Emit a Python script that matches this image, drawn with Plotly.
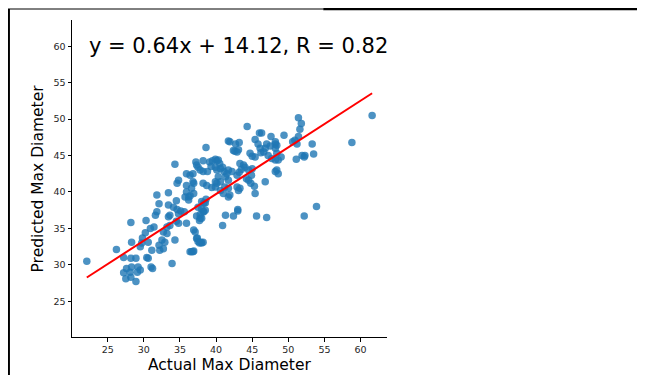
import plotly.graph_objects as go

actual = [
    22.1, 26.2, 27.2, 27.2, 27.6, 28.1, 27.5, 28.2, 28.3, 28.9, 29.2, 29.5, 29.1, 28.2, 28.9, 28.2, 28.3,
    29.5, 29.8, 29.7, 30.2, 30.3, 30.4, 30.6, 31.0, 31.2, 31.1, 30.6, 31.4, 30.9, 31.8, 31.6, 32.1, 32.2,
    32.7, 32.1, 32.5, 32.9, 32.7, 33.2, 33.2, 33.6, 33.4, 33.6, 33.4, 34.1, 33.9, 34.3, 34.5, 34.8, 34.8,
    35.1, 34.6, 35.9, 36.2, 36.4, 36.8, 36.9, 37.1, 37.3, 37.7, 38.0, 37.3, 37.8, 37.8, 38.2, 38.0, 38.5,
    40.9, 41.3, 42.4, 43.0,
    31.8, 33.4, 34.3, 34.8, 34.6, 35.9, 36.4, 35.9, 36.9, 36.6, 35.9, 36.2, 36.9, 37.2, 37.5, 37.3, 38.2,
    37.8, 38.2, 38.6, 39.1, 39.5, 39.9, 40.1, 40.5, 39.3, 39.9, 40.1, 38.8, 40.9, 41.1, 41.5, 38.2, 38.7,
    39.4, 39.9, 40.1, 40.6, 41.0, 41.7, 38.6, 38.3, 37.5, 38.0, 34.5, 35.7, 36.4, 36.8, 36.8,
    44.3, 46.0, 46.3, 41.7, 41.9, 42.7, 43.2, 45.4, 45.8, 47.6, 48.2, 48.4, 47.0, 47.5, 46.8, 42.4, 42.6,
    43.1, 42.9, 44.7, 45.0, 45.4, 46.1, 46.2, 46.6, 47.2, 47.7, 48.4, 48.6, 49.0, 40.3, 40.6, 40.3, 39.9,
    40.6, 43.3, 43.8, 44.0, 43.5, 43.2, 42.9, 44.5, 45.0, 44.9, 44.5, 44.2, 44.8, 45.3, 45.4, 46.8, 48.4,
    48.6, 41.7, 42.2, 41.3, 41.7, 41.2, 41.7, 41.9, 42.9, 43.1, 43.3, 43.0,
    51.4, 51.8, 51.6, 49.4, 51.4, 50.9, 50.6, 51.2, 48.2, 48.2, 53.3, 51.9, 52.3, 53.5, 51.1, 52.2, 48.2,
    48.2, 53.9, 52.2, 58.8, 61.6, 45.6, 47.0,
    35.6, 38.0, 38.3, 38.5, 37.7, 37.4, 37.5, 37.9, 38.2, 36.6, 36.9,
]
predicted = [
    30.5, 32.1, 31.0, 28.9, 29.5, 29.0, 28.1, 28.3, 29.7, 27.7, 29.7, 29.3, 29.0, 30.9, 30.9, 35.8, 33.1,
    32.5, 33.7, 33.0, 34.4, 36.1, 31.0, 30.9, 29.7, 29.5, 32.0, 33.1, 35.2, 35.0, 37.3, 36.8, 38.4, 32.0,
    32.2, 32.7, 33.4, 33.1, 34.5, 34.3, 35.2, 35.4, 36.6, 36.8, 38.2, 37.9, 30.2, 33.4, 36.0, 35.7, 37.0,
    37.4, 37.6, 35.7, 38.9, 31.8, 31.8, 34.8, 34.5, 33.6, 33.0, 33.0, 36.7, 36.4, 36.9, 37.3, 38.7, 38.5,
    35.4, 36.8, 36.7, 37.4,
    39.6, 39.9, 43.8, 41.6, 41.2, 42.5, 42.3, 40.9, 41.2, 40.5, 40.0, 39.3, 39.8, 44.1, 43.4, 43.7, 44.3,
    43.0, 42.8, 46.1, 44.1, 44.3, 44.5, 44.3, 43.9, 43.5, 43.4, 43.0, 42.8, 43.4, 42.8, 42.5, 41.2, 40.9,
    40.6, 40.7, 41.2, 40.2, 39.8, 39.3, 39.0, 38.5, 37.9, 37.7, 38.8, 39.3, 39.5, 42.5, 41.4,
    49.0, 48.1, 48.1, 47.0, 46.9, 46.6, 46.8, 47.2, 46.6, 47.6, 46.9, 46.4, 46.6, 46.3, 46.0, 45.7, 45.6,
    45.8, 45.5, 45.3, 44.9, 44.8, 46.0, 45.4, 45.5, 45.0, 44.6, 45.3, 44.4, 44.8, 44.4, 43.2, 42.1, 41.4,
    41.4, 43.9, 43.7, 43.4, 43.1, 42.7, 42.3, 43.0, 43.2, 42.3, 41.6, 41.8, 41.2, 40.8, 39.8, 41.4, 43.0,
    42.5, 43.0, 42.8, 42.1, 41.6, 40.7, 40.5, 39.6, 40.7, 40.2, 40.5, 37.6,
    50.2, 49.4, 48.6, 47.8, 47.6, 47.1, 46.9, 46.6, 46.6, 46.0, 46.6, 45.0, 45.0, 45.2, 44.5, 44.8, 44.4,
    42.8, 38.0, 36.7, 46.8, 50.5, 36.7, 36.5,
    37.3, 36.4, 37.3, 37.5, 36.1, 33.7, 33.2, 33.1, 33.1, 31.8, 31.9,
]

slope = 0.64
intercept = 14.12
r_value = 0.82

x_title = "Actual Max Diameter"
y_title = "Predicted Max Diameter"
ticks = [25, 30, 35, 40, 45, 50, 55, 60]

x_min, x_max = min(actual), max(actual)
fit_x = [x_min, x_max]
fit_y = [slope * v + intercept for v in fit_x]

fig = go.Figure()
fig.add_trace(go.Scatter(
    x=actual, y=predicted, mode="markers",
    marker=dict(size=7.5, color="#1f77b4", opacity=0.8, line=dict(width=0)),
    showlegend=False, hoverinfo="skip",
))
fig.add_trace(go.Scatter(
    x=fit_x, y=fit_y, mode="lines",
    line=dict(color="red", width=2),
    showlegend=False, hoverinfo="skip",
))

axis_common = dict(
    showgrid=False, zeroline=False, showline=True, linecolor="black", linewidth=1,
    ticks="outside", ticklen=3.5, tickwidth=1, tickcolor="black",
    tickvals=ticks, tickfont=dict(family="DejaVu Sans", size=9.5, color="#262626"),
    mirror=False,
)
fig.update_xaxes(range=[20.05, 63.66], **axis_common)
fig.update_yaxes(range=[20.1, 63.6], **axis_common)

fig.add_annotation(
    x=x_min, y=60, xref="x", yref="y", text=f"y = {slope:.2f}x + {intercept:.2f}, R = {r_value:.2f}",
    showarrow=False, xanchor="left", yanchor="middle",
    font=dict(family="DejaVu Sans", size=21, color="black"),
)
fig.add_annotation(
    x=0.5, y=-0.089, xref="paper", yref="paper", text=x_title, showarrow=False,
    xanchor="center", yanchor="middle", font=dict(family="DejaVu Sans", size=15.5, color="black"),
)
fig.add_annotation(
    x=-0.108, y=0.5, xref="paper", yref="paper", text=y_title, showarrow=False, textangle=-90,
    xanchor="center", yanchor="middle", font=dict(family="DejaVu Sans", size=15.5, color="black"),
)

# outer frame fragments
fig.add_shape(type="line", xref="paper", yref="paper", x0=-0.2002, x1=-0.2002, y0=-0.2, y1=1.0347,
              line=dict(color="black", width=2))
fig.add_shape(type="line", xref="paper", yref="paper", x0=-0.21, x1=0.7976, y0=1.0347, y1=1.0347,
              line=dict(color="black", width=1))
fig.add_shape(type="line", xref="paper", yref="paper", x0=0.7976, x1=1.83, y0=1.0347, y1=1.0347,
              line=dict(color="black", width=2.5))

fig.update_layout(
    width=637, height=367,
    margin=dict(l=64, r=258.3, t=12, b=38.3),
    plot_bgcolor="white", paper_bgcolor="white",
)
fig.write_html("out.html")
